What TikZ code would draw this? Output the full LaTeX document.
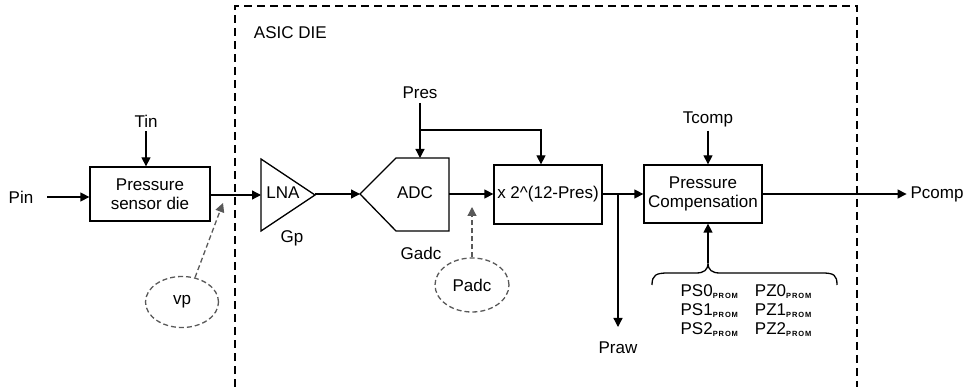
\documentclass[tikz,border=0pt]{standalone}
\usepackage{fontspec}
\setmainfont{Liberation Sans}
\usetikzlibrary{arrows.meta,shapes.geometric}
\newcommand{\prom}{\raisebox{-1.5pt}{\fontsize{7.5}{7.5}\selectfont\addfontfeature{LetterSpace=12}\bfseries PROM}}
\begin{document}
\begin{tikzpicture}[x=1pt,y=-1pt,font=\fontsize{17}{19}\selectfont,line width=1.3pt,
  arr/.style={-{Triangle[length=9pt,width=9pt]}},
  darr/.style={arr,dashed,black!65,dash pattern=on 5pt off 3pt},
  blk/.style={draw,inner sep=2pt,align=center},
  bubble/.style={draw,ellipse,dashed,black!65,dash pattern=on 5pt off 3pt,text=black,inner sep=0pt}]
\useasboundingbox (0,0) rectangle (964,387);

\draw[dashed,dash pattern=on 8pt off 5pt,line width=1.4pt] (235,387) -- (235,6) -- (857,6) -- (857,387);
\node[anchor=west] (asic) at (250,33) {ASIC DIE};

\node[blk,minimum width=120,minimum height=54] (sensor) at (150,194) {Pressure\\sensor die};
\node (pin) at (21,197) {Pin};
\node (tin) at (146,121) {Tin};
\draw[arr,shorten <=10pt] (pin.east) -- (sensor.west |- pin.east);
\draw[arr] (tin.south) -- (tin.south |- sensor.north);

\draw (261,159) -- (315,195) coordinate (lnaR) -- (261,231) -- cycle;
\coordinate (lnaL) at (261,195);
\node (lna) at (283,193) {LNA};
\node (gp) at (292,238) {Gp};
\draw[arr] (sensor.east |- lnaL) -- (lnaL);

\node[bubble,minimum width=73,minimum height=51] (vp) at (182,302) {vp};
\coordinate (vpT) at (223,203);
\draw[darr] (vp.62) -- (vpT);

\draw (360,194) coordinate (adcL) -- (396,158) -- (449,158) -- (449,231) -- (396,231) -- cycle;
\coordinate (adcTop) at (420,158);
\coordinate (adcR) at (449,194);
\node (adc) at (415,193) {ADC};
\node (gadc) at (421,253) {Gadc};
\draw[arr] (lnaR |- adcL) -- (adcL);

\node (pres) at (420,93) {Pres};
\node[blk,minimum width=108,minimum height=59] (mult) at (548,194.5) {x 2\^{}(12-Pres)};
\coordinate (presJ) at (420,130);
\draw[arr] (pres.south) -- (adcTop);
\draw[arr] (presJ) -| ([xshift=-7pt]mult.north);
\draw[arr] (adcR) -- (mult.west |- adcR);

\node[bubble,minimum width=74,minimum height=54] (padc) at (472,285) {Padc};
\coordinate (padcT) at (472,207);
\draw[darr] (padc.north) -- (padcT);

\node[blk,minimum width=118,minimum height=58] (comp) at (703,194) {Pressure\\Compensation};
\node (tcomp) at (708,119) {Tcomp};
\draw[arr] (tcomp.south) -- (tcomp.south |- comp.north);
\draw[arr] (mult.east |- comp.west) -- (comp.west);

\coordinate (rawJ) at (618,194);
\coordinate (rawEnd) at (618,327);
\node (praw) at (618,348) {Praw};
\draw[arr] (rawJ) -- (rawEnd);

\node (pcomp) at (937,194) {Pcomp};
\draw[arr] (comp.east) -- (pcomp.west);

\draw (652,285) .. controls (652,275) and (656,273) .. (668,273) -- (696,273)
  .. controls (704,273) and (708,270) .. (708,263) coordinate (braceTip)
  .. controls (708,270) and (712,273) .. (720,273) -- (822,273)
  .. controls (834,273) and (837,275) .. (837,285);
\draw[arr] (braceTip) -- (braceTip |- comp.south);

\node[anchor=north west,inner sep=0pt] (proms) at (680,283)
  {\begin{tabular}{@{}l@{\hspace{17pt}}l@{}}
   PS0\prom & PZ0\prom\\
   PS1\prom & PZ1\prom\\
   PS2\prom & PZ2\prom
   \end{tabular}};
\end{tikzpicture}
\end{document}
